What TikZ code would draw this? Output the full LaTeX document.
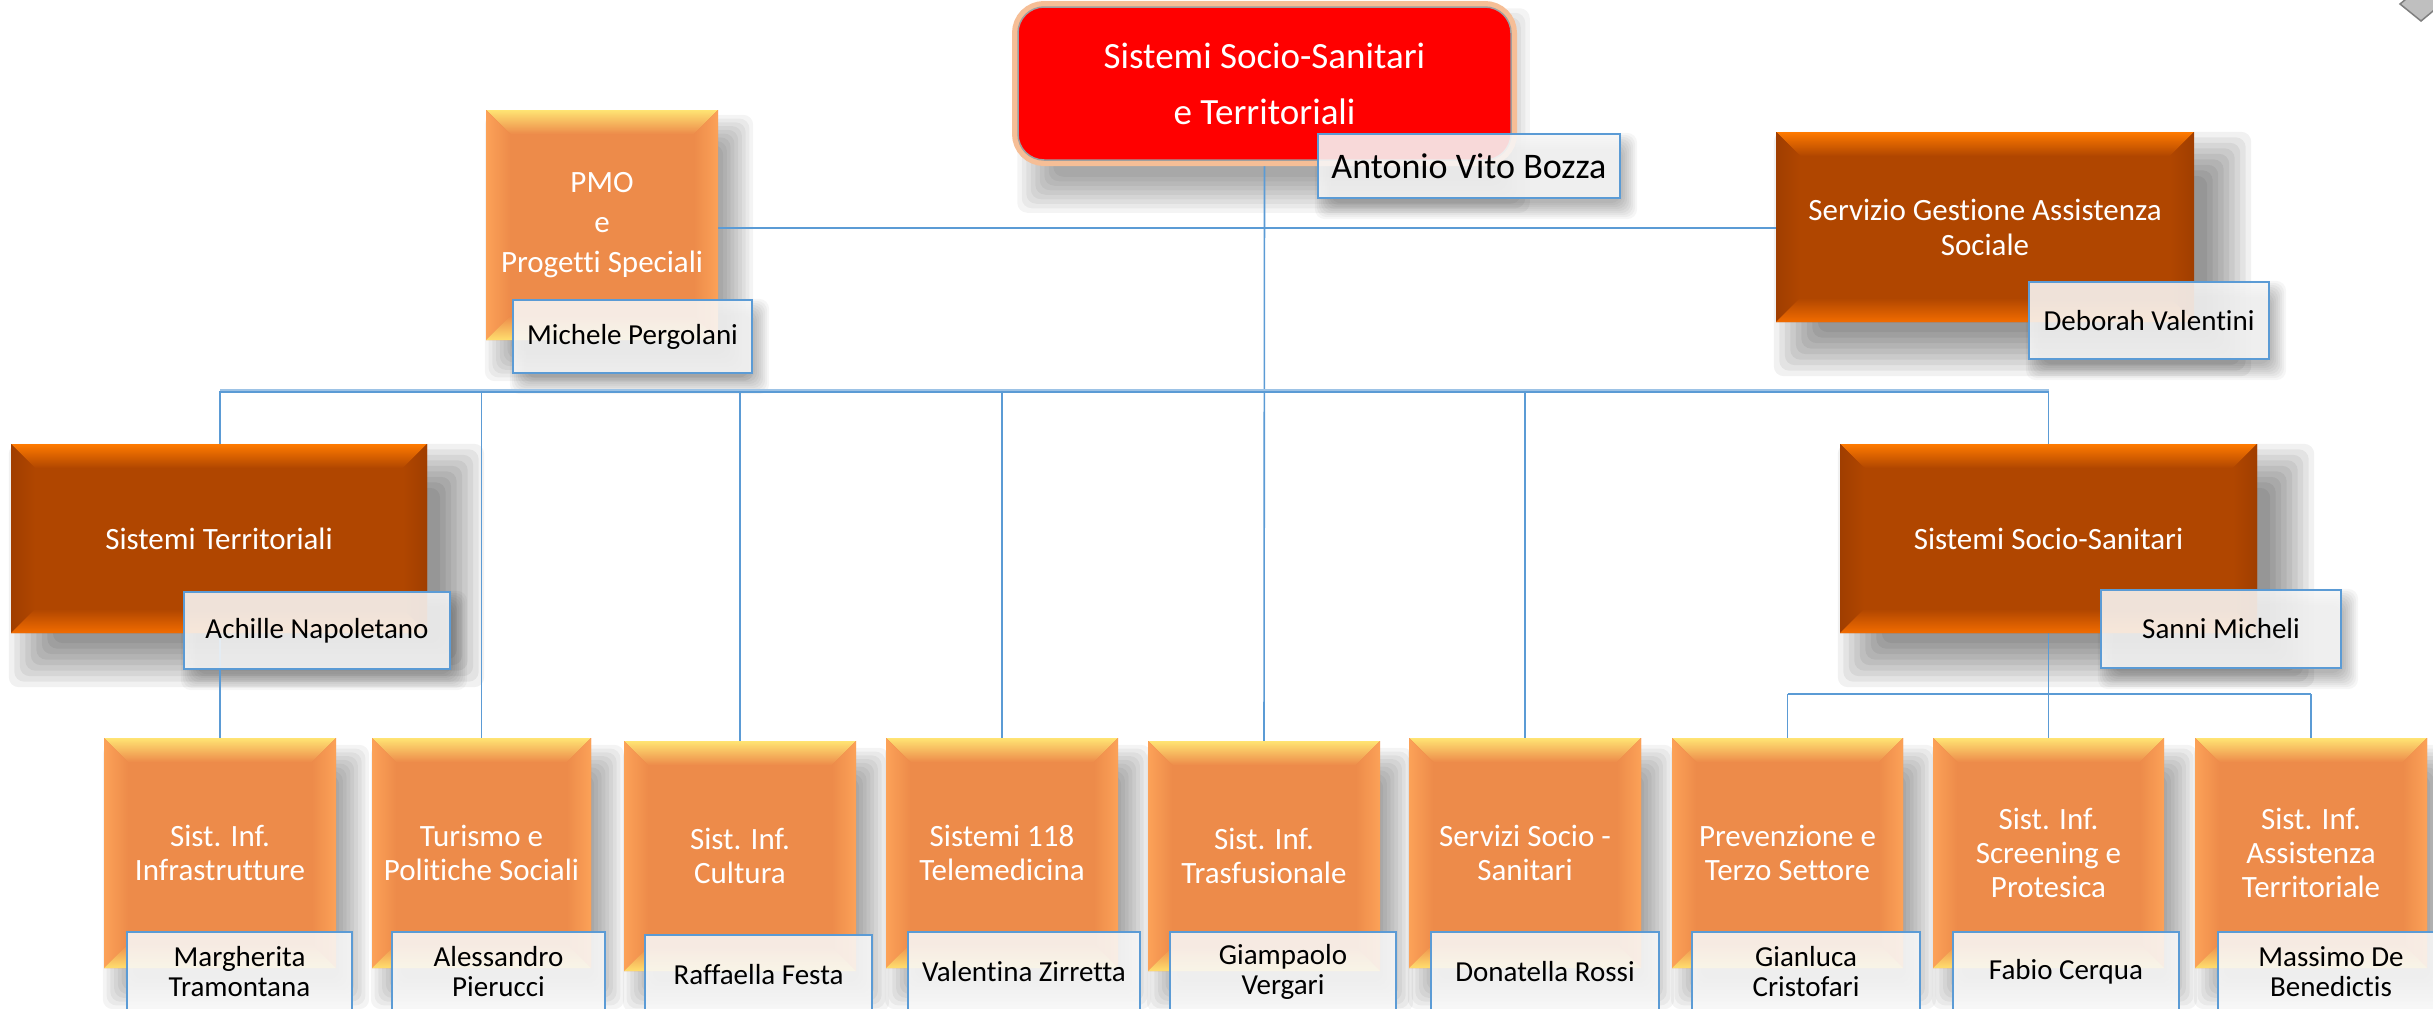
\documentclass[tikz,border=0pt]{standalone}
\usepackage{fontspec}
\setmainfont{Carlito}[Ligatures={NoCommon}]
\usetikzlibrary{calc}
\definecolor{conn}{RGB}{91,155,213}
\definecolor{connlight}{RGB}{157,195,230}
\definecolor{lorinner}{RGB}{237,139,74}
\definecolor{lortop}{RGB}{255,228,115}
\definecolor{lorside}{RGB}{252,162,88}
\definecolor{lorbot}{RGB}{255,222,110}
\definecolor{dkinner}{RGB}{176,70,0}
\definecolor{dktop}{RGB}{255,122,0}
\definecolor{dkside}{RGB}{160,62,0}
\definecolor{dkbot}{RGB}{242,108,0}
\definecolor{rootred}{RGB}{255,0,0}
\definecolor{glow}{RGB}{246,190,150}
\definecolor{namefill}{RGB}{248,248,248}
\definecolor{diamfill}{RGB}{191,191,191}
\definecolor{diamedge}{RGB}{127,127,127}
\pgfdeclarelayer{shadowlayer}
\pgfdeclarelayer{connlayer}
\pgfsetlayers{shadowlayer,connlayer,main}

\newcommand\shop{0.045}
% soft shadow: node, dx1, dy1, dx2, dy2 (image px, down positive), blur
\newcommand\softshadow[6]{%
  \foreach \k in {0,...,8}{%
    \pgfmathsetmacro\ee{#6*(\k/4-1)}%
    \pgfmathsetmacro\ax{#2-\ee}%
    \pgfmathsetmacro\ay{-(#3-\ee)}%
    \pgfmathsetmacro\bx{#4+\ee}%
    \pgfmathsetmacro\by{-(#5+\ee)}%
    \fill[black,fill opacity=\shop,rounded corners=10pt]
      ([shift={(\ax pt,\ay pt)}]#1.north west) rectangle ([shift={(\bx pt,\by pt)}]#1.south east);
  }}

\tikzset{
  bevel/.style n args={4}{% inner, top, side, bottom
    fill=#1,
    path picture={
      \coordinate (bnw) at (path picture bounding box.north west);
      \coordinate (bne) at (path picture bounding box.north east);
      \coordinate (bsw) at (path picture bounding box.south west);
      \coordinate (bse) at (path picture bounding box.south east);
      \fill[top color=#2,bottom color=#1] (bnw) -- (bne) -- ([shift={(-24pt,-24pt)}]bne) -- ([shift={(24pt,-24pt)}]bnw) -- cycle;
      \fill[left color=#3,right color=#1] (bnw) -- ([shift={(24pt,-24pt)}]bnw) -- ([shift={(24pt,24pt)}]bsw) -- (bsw) -- cycle;
      \fill[left color=#1,right color=#3] (bne) -- ([shift={(-24pt,-24pt)}]bne) -- ([shift={(-24pt,24pt)}]bse) -- (bse) -- cycle;
      \fill[top color=#1,bottom color=#4] (bsw) -- (bse) -- ([shift={(-24pt,24pt)}]bse) -- ([shift={(24pt,24pt)}]bsw) -- cycle;
    }},
  conline/.style={draw=conn, line width=1.6pt},
  boxtext/.style={text=white, align=center, inner sep=0pt, font=\fontsize{31}{34}\selectfont},
  lightbox/.style={boxtext, bevel={lorinner}{lortop}{lorside}{lorbot}, minimum width=232pt, minimum height=230pt},
  darkbox/.style={boxtext, bevel={dkinner}{dktop}{dkside}{dkbot}, font=\fontsize{31}{35}\selectfont},
  namebox/.style={draw=conn, line width=2.2pt, fill=namefill, fill opacity=0.88, text opacity=1, text=black, align=center, inner sep=0pt, font=\fontsize{29}{30}\selectfont, minimum height=80pt},
}

\begin{document}
\begin{tikzpicture}[x=1pt,y=-1pt]
\useasboundingbox (0,0) rectangle (2433,1009);
\begin{pgfonlayer}{shadowlayer}
\fill[white] (0,0) rectangle (2433,1009);
\end{pgfonlayer}
\clip (0,0) rectangle (2433,1009);

% top
\node[fill=rootred, draw=gray!75, line width=1.5pt, rounded corners=26pt,
      minimum width=493pt, minimum height=153pt,
      preaction={draw=glow, line width=12pt},
      text=white, align=center, inner sep=0pt, font=\fontsize{37}{56}\selectfont]
      (root) at (1264.5,83.5) {Sistemi Socio-Sanitari\\e Territoriali};
\node[namebox, font=\fontsize{36}{40}\selectfont, minimum width=302pt, minimum height=64pt] (nroot) at (1469,166) {Antonio Vito Bozza};

\node[lightbox, font=\fontsize{31}{40}\selectfont] (pmo) at (602,225) {PMO\\e\\Progetti Speciali};
\node[namebox, minimum width=239pt, minimum height=73pt] (npmo) at (632.5,336.5) {Michele Pergolani};

\node[darkbox, minimum width=418pt, minimum height=190pt] (sga) at (1985,227) {Servizio Gestione Assistenza\\Sociale};
\node[namebox, minimum width=240pt, minimum height=77pt] (nsga) at (2149,320.5) {Deborah Valentini};

% middle
\node[darkbox, minimum width=416pt, minimum height=189pt] (st) at (219,538.5) {Sistemi Territoriali};
\node[namebox, minimum width=266pt, minimum height=77pt] (nst) at (317,630.5) {Achille Napoletano};

\node[darkbox, minimum width=417pt, minimum height=189pt] (ss) at (2048.5,538.5) {Sistemi Socio-Sanitari};
\node[namebox, minimum width=240pt, minimum height=78pt] (nss) at (2221,629) {Sanni Micheli};

% bottom row
\node[lightbox] (b1) at (220,853) {Sist. Inf.\\Infrastrutture};
\node[namebox, minimum width=225pt] (n1) at (239.5,972) {Margherita\\Tramontana};
\node[lightbox, minimum width=219pt] (b2) at (481.5,853) {Turismo e\\Politiche Sociali};
\node[namebox, minimum width=213pt] (n2) at (498.5,972) {Alessandro\\Pierucci};
\node[lightbox] (b3) at (740,856) {Sist. Inf.\\Cultura};
\node[namebox, minimum width=227pt] (n3) at (758.5,975) {Raffaella Festa};
\node[lightbox] (b4) at (1002,853) {Sistemi 118\\Telemedicina};
\node[namebox, minimum width=232pt] (n4) at (1024,972) {Valentina Zirretta};
\node[lightbox] (b5) at (1264,856) {Sist. Inf.\\Trasfusionale};
\node[namebox, minimum width=226pt] (n5) at (1283,972) {Giampaolo\\Vergari};
\node[lightbox] (b6) at (1525,853) {Servizi Socio -\\Sanitari};
\node[namebox, minimum width=228pt] (n6) at (1545,972) {Donatella Rossi};
\node[lightbox, minimum width=231pt] (b7) at (1787.5,853) {Prevenzione e\\Terzo Settore};
\node[namebox, minimum width=228pt] (n7) at (1806,972) {Gianluca\\Cristofari};
\node[lightbox, minimum width=231pt] (b8) at (2048.5,853) {Sist. Inf.\\Screening e\\Protesica};
\node[namebox, minimum width=226pt] (n8) at (2066,972) {Fabio Cerqua};
\node[lightbox] (b9) at (2311,853) {Sist. Inf.\\Assistenza\\Territoriale};
\node[namebox, minimum width=226pt] (n9) at (2331,972) {Massimo De\\Benedictis};

% corner shape
\filldraw[fill=diamfill, draw=diamedge, line width=1.5pt] (2400,4) -- (2421,21) -- (2445,1) -- (2424,-16) -- cycle;

% connectors
\begin{pgfonlayer}{connlayer}
\coordinate (hj) at (1264.5,228);
\coordinate (bar) at (1264.5,391);
\coordinate (bar2) at (2048.5,694);
\draw[conline] (root.south) -- (b5.north);
\draw[conline] (pmo.east |- hj) -- (sga.west |- hj);
\draw[draw=connlight, line width=3.2pt] (b1.north |- bar) -- (ss.north |- bar);
\draw[conline] ([yshift=-0.8pt]b1.north |- bar) -- ([yshift=-0.8pt]ss.north |- bar);
\foreach \n in {b1,b2,b3,b4,b6}{\draw[conline] (\n.north |- bar) -- (\n.north);}
\draw[conline] (ss.north |- bar) -- (ss.north);
\draw[conline] (ss.south) -- (b8.north);
\draw[conline] (b7.north |- bar2) -- (b9.north |- bar2);
\draw[conline] (b7.north |- bar2) -- (b7.north);
\draw[conline] (b9.north |- bar2) -- (b9.north);
\end{pgfonlayer}

% shadows
\begin{pgfonlayer}{shadowlayer}
\softshadow{root}{18}{20}{0}{34}{18}
\softshadow{pmo}{14}{20}{20}{26}{15}
\renewcommand\shop{0.055}
\softshadow{sga}{20}{22}{35}{32}{22}
\softshadow{st}{20}{22}{35}{32}{22}
\softshadow{ss}{20}{22}{35}{32}{22}
\renewcommand\shop{0.045}
\foreach \b in {b1,b2,b3,b4,b5,b6,b7,b8,b9}{\softshadow{\b}{14}{22}{18}{26}{15}}
\renewcommand\shop{0.035}
\foreach \m in {nroot,npmo,nsga,nst,nss}{\softshadow{\m}{6}{8}{8}{12}{8}}
\end{pgfonlayer}
\end{tikzpicture}
\end{document}
